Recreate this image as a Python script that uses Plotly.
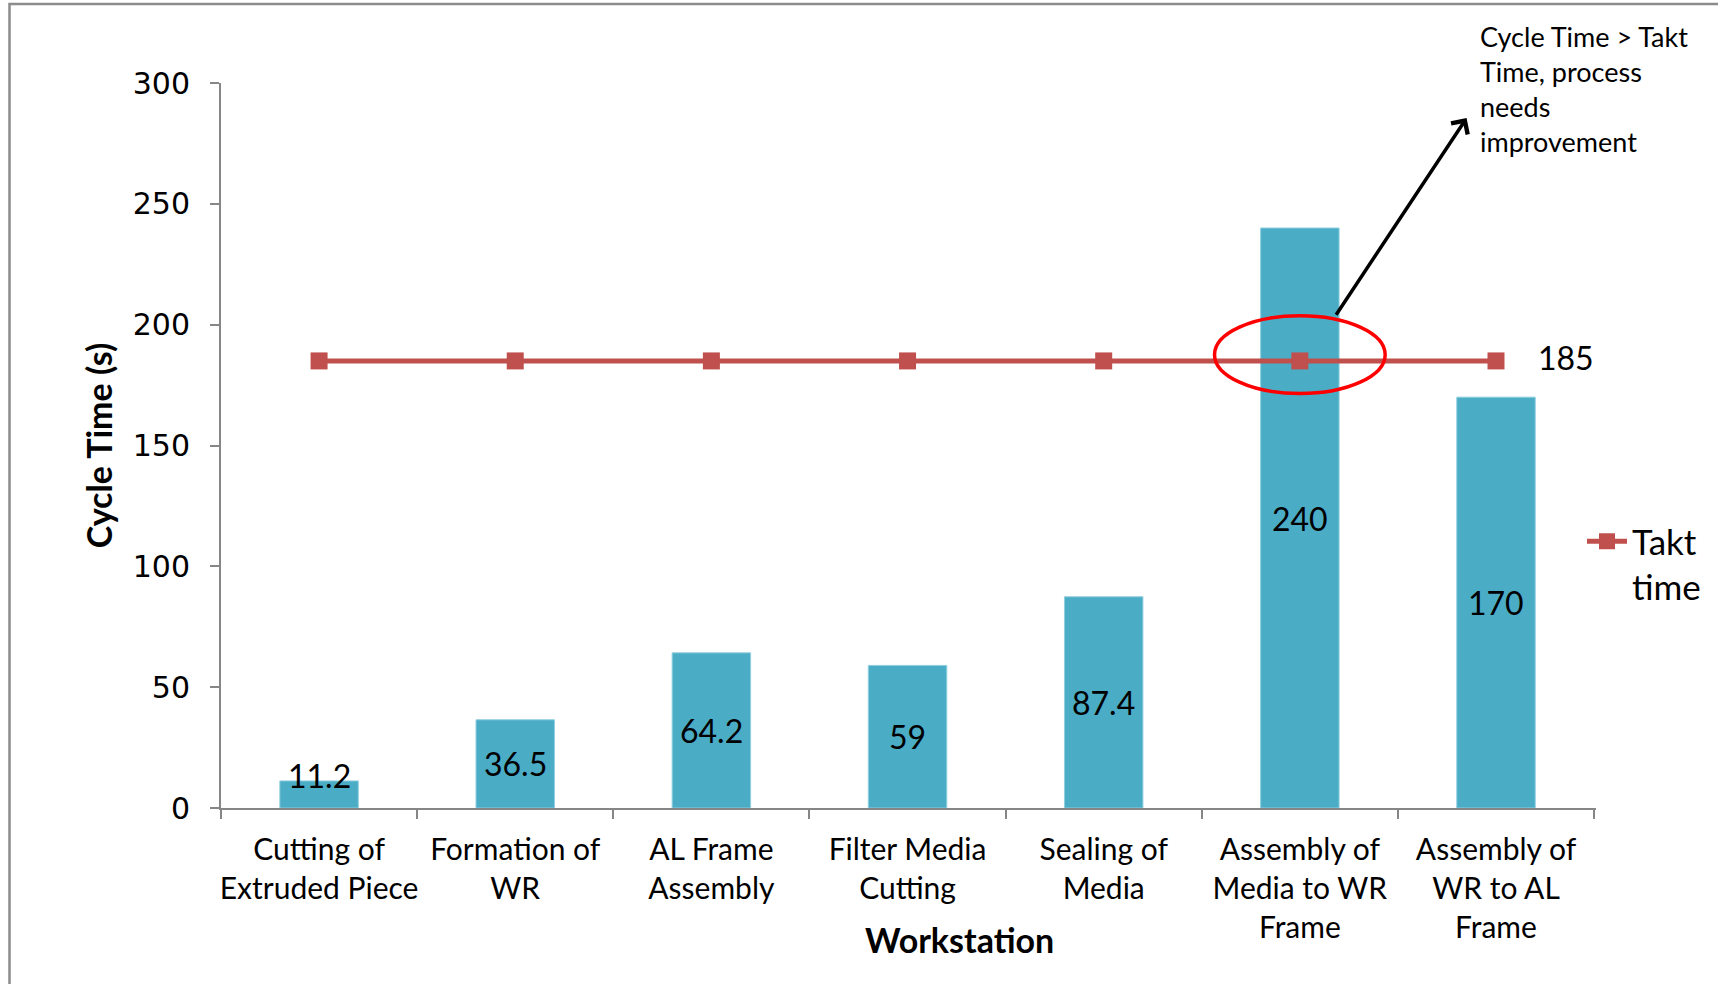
import plotly.graph_objects as go

categories = [
    "Cutting of<br>Extruded Piece",
    "Formation of<br>WR",
    "AL Frame<br>Assembly",
    "Filter Media<br>Cutting",
    "Sealing of<br>Media",
    "Assembly of<br>Media to WR<br>Frame",
    "Assembly of<br>WR to AL<br>Frame",
]
cycle_time = [11.2, 36.5, 64.2, 59, 87.4, 240, 170]
takt_time = [185, 185, 185, 185, 185, 185, 185]
y_ticks = [0, 50, 100, 150, 200, 250, 300]

BAR = "#4BACC6"
LINE = "#C0504D"
FONT = "Lato"

W, H = 1718, 984
L, R, T, B = 221, 122, 83, 176

fig = go.Figure()
fig.add_trace(go.Bar(
    x=categories, y=cycle_time, name="Cycle time", showlegend=False,
    marker=dict(color=BAR, line=dict(color="#8fcfe0", width=1)),
    width=0.4,
))
fig.add_trace(go.Scatter(
    x=categories, y=takt_time, name="Takt<br>time", mode="lines+markers",
    line=dict(color=LINE, width=5),
    marker=dict(symbol="square", size=17, color=LINE),
))

# data labels centred in the bars
for i, v in enumerate(cycle_time):
    fig.add_annotation(x=i, y=max(v / 2, 13.6), text=str(v), showarrow=False,
                       font=dict(family=FONT, size=32, color="black"))

# takt value label
fig.add_annotation(x=len(categories) - 1, y=takt_time[-1], text=str(takt_time[-1]),
                   showarrow=False, xanchor="left", xshift=40, yshift=3,
                   font=dict(family=FONT, size=32, color="black"))

# x-axis title
fig.add_annotation(xref="paper", yref="paper", x=(960 - L) / (W - L - R),
                   y=-(939 - (H - B)) / (H - T - B), yanchor="middle", xanchor="center",
                   text="<b>Workstation</b>",
                   showarrow=False, font=dict(family=FONT, size=34, color="black"))

# callout text
fig.add_annotation(xref="paper", yref="paper", x=(1478 - L) / (W - L - R),
                   y=(H - B - 18) / (H - T - B), xanchor="left", yanchor="top", align="left",
                   text="Cycle Time > Takt<br>Time, process<br>needs<br>improvement",
                   showarrow=False, font=dict(family=FONT, size=27, color="black"))

# arrow
fig.add_annotation(x=5.85, y=285.5, ax=5.18, ay=203.5, axref="x", ayref="y",
                   xref="x", yref="y", text="", showarrow=True,
                   arrowhead=4, arrowsize=1.1, arrowwidth=3.5, arrowcolor="black")

# red ellipse
fig.add_shape(type="circle", xref="x", yref="y", x0=4.565, x1=5.435, y0=171.5, y1=203.7,
              line=dict(color="#FF0000", width=3.5))

# chart frame
fig.add_shape(type="rect", xref="paper", yref="paper",
              x0=(9.5 - L) / (W - L - R), x1=1.3, y0=-0.6, y1=(H - B - 4) / (H - T - B),
              line=dict(color="#8c8c8c", width=2.5), layer="below")

fig.update_layout(
    width=W, height=H,
    margin=dict(l=L, r=R, t=T, b=B, autoexpand=False),
    paper_bgcolor="white", plot_bgcolor="white",
    font=dict(family=FONT, size=30, color="black"),
    bargap=0.6,
    legend=dict(x=(1582 - L) / (W - L - R), y=(H - B - 512) / (H - T - B),
                xanchor="left", yanchor="top", valign="top",
                font=dict(family=FONT, size=35, color="black"),
                bgcolor="rgba(0,0,0,0)", itemwidth=40),
    xaxis=dict(
        type="category", showgrid=False, showline=True, linecolor="#868686", linewidth=2,
        ticks="outside", tickson="boundaries", ticklen=9, tickcolor="#868686", tickwidth=2,
        tickfont=dict(family=FONT, size=30, color="black"), tickangle=0,
        ticklabelstandoff=14,
        automargin=False,
    ),
    yaxis=dict(
        range=[0, 300], tickvals=y_ticks, showgrid=False, zeroline=False,
        showline=True, linecolor="#868686", linewidth=2,
        ticks="outside", ticklen=9, tickcolor="#868686", tickwidth=2,
        tickfont=dict(family="DejaVu Sans", size=30, color="black"),
        ticklabelstandoff=14,
        title=dict(text="<b>Cycle Time (s)</b>", font=dict(family=FONT, size=34, color="black"),
                   standoff=10),
        automargin=False,
    ),
)

fig.write_html("out.html")
